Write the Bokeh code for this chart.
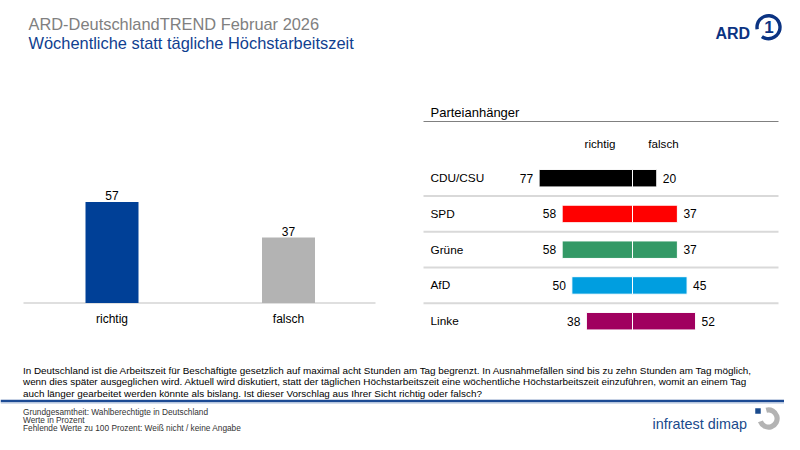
from bokeh.plotting import figure
from bokeh.models import Range1d
from bokeh.core.properties import value
from bokeh.embed import file_html
from bokeh.resources import INLINE
import math

# ---------------- data ----------------
total_cats = ["richtig", "falsch"]
total_vals = [57, 37]
total_colors = ["#004097", "#b3b3b3"]

parties = ["CDU/CSU", "SPD", "Grüne", "AfD", "Linke"]
party_richtig = [77, 58, 58, 50, 38]
party_falsch = [20, 37, 37, 45, 52]
party_colors = ["#000000", "#ff0000", "#339966", "#009ee0", "#a0005f"]

title = "ARD-DeutschlandTREND Februar 2026"
subtitle = "Wöchentliche statt tägliche Höchstarbeitszeit"
panel_title = "Parteianhänger"
question_lines = [
    "In Deutschland ist die Arbeitszeit für Beschäftigte gesetzlich auf maximal acht Stunden am Tag begrenzt. In Ausnahmefällen sind bis zu zehn Stunden am Tag möglich,",
    "wenn dies später ausgeglichen wird. Aktuell wird diskutiert, statt der täglichen Höchstarbeitszeit eine wöchentliche Höchstarbeitszeit einzuführen, womit an einem Tag",
    "auch länger gearbeitet werden könnte als bislang. Ist dieser Vorschlag aus Ihrer Sicht richtig oder falsch?",
]
footer_lines = [
    "Grundgesamtheit: Wahlberechtigte in Deutschland",
    "Werte in Prozent",
    "Fehlende Werte zu 100 Prozent: Weiß nicht / keine Angabe",
]

# ---------------- canvas ----------------
W, H = 784, 434
FONT = value("Liberation Sans")


def X(rx):
    return rx


def Y(ry):
    return H - ry


p = figure(width=W, height=H, x_range=Range1d(0, W), y_range=Range1d(0, H),
           output_backend="svg", toolbar_location=None, min_border=0)
p.axis.visible = False
p.grid.visible = False
p.outline_line_color = None
p.background_fill_color = "white"
p.border_fill_color = "white"

# left chart scales
LPX = 1.772
base_y = Y(302.5)
LSTEP = 176.5
lx0 = X(111.5)
p.extra_y_ranges["lv"] = Range1d(-base_y / LPX, (H - base_y) / LPX)
p.extra_x_ranges["lx"] = Range1d(-lx0 / LSTEP, (W - lx0) / LSTEP)

# right chart scales
RPX = 1.213
cx = X(632)
RSTEP = 35.75
row0 = Y(177.7)
p.extra_x_ranges["rx"] = Range1d(-cx / RPX, (W - cx) / RPX)
p.extra_y_ranges["ry"] = Range1d(row0 / RSTEP, -(H - row0) / RSTEP)

# ---------------- header ----------------
p.text(x=[X(28)], y=[Y(23.3)], text=[title], text_font=FONT, text_font_size="16.4px",
       text_color="#808080", text_baseline="alphabetic")
p.text(x=[X(28)], y=[Y(42.6)], text=[subtitle], text_font=FONT, text_font_size="16.4px",
       text_color="#104090", text_baseline="alphabetic")

# ARD logo
p.text(x=[X(715)], y=[Y(32.5)], text=["ARD"], text_font=FONT, text_font_size="16px",
       text_font_style="bold", text_color="#0b3382", text_baseline="alphabetic")
p.annular_wedge(x=[X(768)], y=[Y(26.7)], inner_radius=9.8, outer_radius=13.2,
                start_angle=math.radians(235), end_angle=math.radians(190),
                fill_color="#0b3382", line_color=None)
p.text(x=[X(768.5)], y=[Y(26.7)], text=["1"], text_font=FONT, text_font_size="17px",
       text_font_style="bold", text_color="#0b3382", text_align="center",
       text_baseline="middle")

# ---------------- left chart ----------------
lidx = list(range(len(total_cats)))
p.segment(x0=[X(23)], y0=[base_y], x1=[X(375)], y1=[base_y], line_color="#bfbfbf", line_width=1)
p.vbar(x=lidx, top=total_vals, bottom=0, width=53 / LSTEP, fill_color=total_colors,
       line_color=None, x_range_name="lx", y_range_name="lv")
p.text(x=lidx, y=total_vals, text=[str(v) for v in total_vals], x_range_name="lx",
       y_range_name="lv", text_font=FONT, text_font_size="12px", text_color="#000000",
       text_align="center", text_baseline="alphabetic", y_offset=-6)
p.text(x=lidx, y=[0] * len(lidx), text=total_cats, x_range_name="lx", y_range_name="lv",
       text_font=FONT, text_font_size="12px", text_color="#000000", text_align="center",
       text_baseline="alphabetic", y_offset=15.5)

# ---------------- right chart ----------------
p.text(x=[X(430)], y=[Y(112)], text=[panel_title], text_font=FONT, text_font_size="13px",
       text_color="#000000", text_baseline="alphabetic")
p.segment(x0=[X(423)], y0=[Y(121)], x1=[X(778)], y1=[Y(121)], line_color="#808080", line_width=1)
p.text(x=[X(599.5), X(663)], y=[Y(142.5)] * 2, text=total_cats, text_font=FONT,
       text_font_size="11.6px", text_color="#000000", text_align="center",
       text_baseline="alphabetic")

ridx = list(range(len(parties)))
seps = [i + 0.5 for i in ridx[:-1]]
p.segment(x0=[X(423)] * len(seps), y0=seps, x1=[X(778)] * len(seps), y1=seps,
          line_color="#d9d9d9", line_width=2, y_range_name="ry")
p.hbar(y=ridx, left=[-v for v in party_richtig], right=0, height=17.5 / RSTEP,
       fill_color=party_colors, line_color="white", line_width=1,
       x_range_name="rx", y_range_name="ry")
p.hbar(y=ridx, left=0, right=party_falsch, height=17.5 / RSTEP,
       fill_color=party_colors, line_color="white", line_width=1,
       x_range_name="rx", y_range_name="ry")
p.text(x=[X(430)] * len(parties), y=ridx, text=parties, y_range_name="ry", text_font=FONT,
       text_font_size="11.8px", text_color="#000000", text_baseline="middle")
p.text(x=[-v for v in party_richtig], y=ridx, text=[str(v) for v in party_richtig],
       x_range_name="rx", y_range_name="ry", text_font=FONT, text_font_size="12px",
       text_color="#000000", text_align="right", text_baseline="middle", x_offset=-6)
p.text(x=party_falsch, y=ridx, text=[str(v) for v in party_falsch],
       x_range_name="rx", y_range_name="ry", text_font=FONT, text_font_size="12px",
       text_color="#000000", text_align="left", text_baseline="middle", x_offset=6)

# ---------------- question & footer ----------------
qy = [369.5, 381, 392.5]
p.text(x=[X(22.5)] * 3, y=[Y(v) for v in qy], text=question_lines, text_font=FONT,
       text_font_size="9.9px", text_color="#000000", text_baseline="alphabetic")

p.segment(x0=[0], y0=[Y(400.5)], x1=[W], y1=[Y(400.5)], line_color="#1c4a94", line_width=2.5)
p.segment(x0=[0], y0=[Y(402.5)], x1=[W], y1=[Y(402.5)], line_color="#a9bbd8", line_width=1)

fy = [411.5, 419.5, 427.5]
p.text(x=[X(22.5)] * 3, y=[Y(v) for v in fy], text=footer_lines, text_font=FONT,
       text_font_size="8.3px", text_color="#333333", text_baseline="alphabetic")

# infratest dimap logo
p.text(x=[X(652)], y=[Y(423.5)], text=["infratest dimap"], text_font=FONT, text_font_size="14.4px",
       text_color="#1a4a8c", text_baseline="alphabetic")
p.annular_wedge(x=[X(768)], y=[Y(418)], inner_radius=6, outer_radius=11.2,
                start_angle=math.radians(200), end_angle=math.radians(105),
                fill_color="#b3b3b3", line_color=None)
p.rect(x=[X(757.5)], y=[Y(410.5)], width=5.5, height=5.5, fill_color="#1a4a8c", line_color=None)

open("out.html", "w").write(file_html(p, INLINE))
